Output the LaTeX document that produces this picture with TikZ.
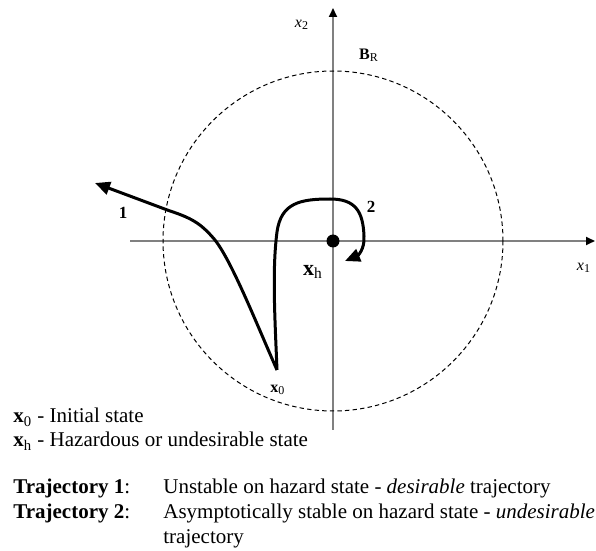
\documentclass[tikz,border=0pt]{standalone}
\usepackage{fontspec}
\setmainfont{Liberation Serif}
\usetikzlibrary{arrows.meta}
\definecolor{axisgray}{HTML}{808080}
\tikzset{
  axis/.style={draw=axisgray, line width=1pt, -{Triangle[length=4.5pt,width=4pt,color=black]}},
  traj/.style={line width=1.5pt, line join=round, -{Triangle[length=7.5pt,width=6.5pt]}},
  bound/.style={line width=0.5pt, dash pattern=on 2.2pt off 1.6pt},
  lbl/.style={font=\fontsize{8}{9.6}\selectfont, inner sep=0pt},
  legend/.style={font=\fontsize{10.5}{12.6}\selectfont, anchor=base west, inner sep=0pt}
}

\begin{document}
\begin{tikzpicture}[x=0.5pt, y=-0.5pt]
\useasboundingbox (0,0) rectangle (596,551);

% Axes and ball
\coordinate (o) at (333,241);
\coordinate (xstart) at (130,241);
\coordinate (xend) at (595,241);
\coordinate (ystart) at (333,430);
\coordinate (yend) at (333,8);
\draw[axis] (xstart) -- (xend);
\draw[axis] (ystart) -- (yend);
\draw[bound] (o) circle[radius=85pt];
\fill (o) circle[radius=3.25pt];

\node[lbl] (x1) at (584,268) {\textit{x}\textsubscript{1}};
\node[lbl] (x2) at (302,25) {\textit{x}\textsubscript{2}};
\node[lbl] (br) at (369,55) {\textbf{B}\textsubscript{R}};
\node[font=\fontsize{11}{13}\selectfont, inner sep=0pt] (xh) at (313,272) {\textbf{x}\textsubscript{h}};

% Trajectories
\coordinate (x0) at (277,370);
\coordinate (tip1) at (95,183);
\coordinate (tip2) at (345,261);
\draw[traj] (x0) .. controls (255,320) and (232,262) .. (215,240)
  .. controls (203,226) and (195,219) .. (170,211) -- (tip1);
\draw[traj] (x0) .. controls (275,320) and (272,270) .. (277,232)
  .. controls (281,203) and (300,199) .. (330,199)
  .. controls (356,199) and (363,212) .. (364,236)
  .. controls (365,250) and (357,256) .. (tip2);

\node[lbl, font=\fontsize{8.5}{10}\selectfont\bfseries] (n1) at (123,213) {1};
\node[lbl, font=\fontsize{8.5}{10}\selectfont\bfseries] (n2) at (371,207) {2};
\node[lbl] (x0lbl) at (278,390) {\textbf{x}\textsubscript{0}};

% Legend
\node[legend] (lx0) at (13,423) {\textbf{x}\textsubscript{0} - Initial state};
\node[legend] (lxh) at (13,447) {\textbf{x}\textsubscript{h} - Hazardous or undesirable state};
\node[legend] (t1) at (13,494) {\textbf{Trajectory 1}:};
\node[legend] (t1d) at (163,494) {Unstable on hazard state - \textit{desirable} trajectory};
\node[legend] (t2) at (13,519) {\textbf{Trajectory 2}:};
\node[legend] (t2d) at (163,519) {Asymptotically stable on hazard state - \textit{undesirable}};
\node[legend] (t2e) at (163,544) {trajectory};

\end{tikzpicture}
\end{document}
